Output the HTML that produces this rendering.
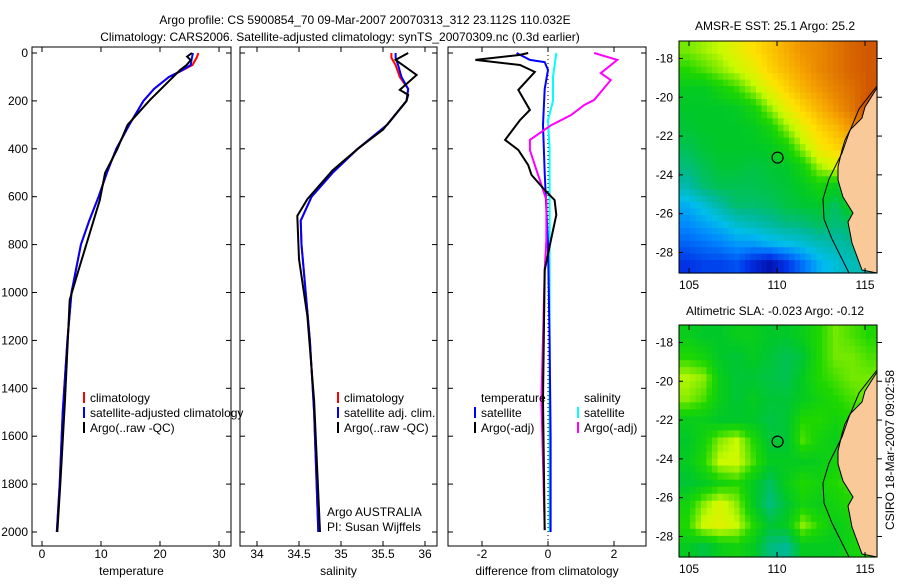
<!DOCTYPE html>
<html><head><meta charset="utf-8"><style>
body{margin:0;background:#fff}
svg text{font-family:"Liberation Sans",sans-serif;font-size:12px;fill:#000}
</style></head><body>
<svg id="fig" width="900" height="580" viewBox="0 0 900 580" xmlns="http://www.w3.org/2000/svg">
<rect width="900" height="580" fill="#fff"/>
<text x="365" y="24" text-anchor="middle">Argo profile: CS 5900854_70 09-Mar-2007 20070313_312 23.112S 110.032E</text>
<text x="340" y="41" text-anchor="middle">Climatology: CARS2006. Satellite-adjusted climatology: synTS_20070309.nc (0.3d earlier)</text>
<g id="plots"></g>
<text x="775" y="30" text-anchor="middle">AMSR-E SST: 25.1 Argo: 25.2</text>
<text x="775" y="315" text-anchor="middle">Altimetric SLA: -0.023 Argo: -0.12</text>
<text transform="translate(894,450) rotate(-90)" text-anchor="middle">CSIRO 18-Mar-2007 09:02:58</text>
</svg>
<script>
// ---- profile data ----
const tempClimDepth=[0,20,50,75,100,150,200,300,400,500,600,700,800,1000,1200,1500,1800,2000];
const tempClim=[26.5,26.2,25.5,23.6,21.5,19,17.2,14.8,12.6,11,9.6,8,6.6,5,4.3,3.5,3,2.5];
const tempSat=[25.6,25.4,25.2,23.5,21.5,19,17.2,14.8,12.6,11,9.6,8,6.6,5,4.3,3.5,3,2.5];
const tempArgoDepth=[0,15,30,50,71,113,196,300,405,500,614,760,906,1031,1449,1800,2000];
const tempArgo=[25.4,24.6,25.2,24.5,23.4,21.7,18.3,14.5,12.7,10.7,9.8,8,6.2,4.7,3.9,3.1,2.6];
const salClimDepth=[0,20,50,100,150,200,300,400,500,600,700,800,1000,1200,1500,2000];
const salClim=[35.6,35.6,35.65,35.7,35.8,35.78,35.55,35.2,34.9,34.65,34.52,34.53,34.58,34.63,34.68,34.73];
const salSat=[35.65,35.65,35.68,35.72,35.8,35.78,35.55,35.2,34.9,34.65,34.52,34.53,34.58,34.63,34.68,34.73];
const salArgoDepth=[0,29,92,154,175,200,320,400,490,610,680,860,1100,1450,2000];
const salArgo=[35.8,35.65,35.9,35.7,35.8,35.78,35.5,35.2,34.9,34.6,34.48,34.5,34.6,34.68,34.75];
const dTempDepth=[0,8,29,50,79,154,238,280,363,405,468,509,572,614,676,760,906,1449,1992];
const dTemp=[-0.6,-0.85,-2.2,-0.85,-0.4,-0.9,-0.55,-0.85,-1.3,-0.9,-0.6,-0.5,-0.1,0.2,0.25,0.12,-0.1,-0.15,-0.1];
const dSalDepth=[0,29,84,113,196,217,259,301,363,405,468,530,614,781,906,1449,1992];
const dSal=[1.4,2.1,1.6,1.9,1.4,1.1,0.7,0.1,-0.55,-0.55,-0.4,-0.25,-0.05,-0.05,-0.1,-0.2,-0.1];
const dTempSatDepth=[0,29,38,71,150,300,500,800,1200,1600,2000];
const dTempSat=[-0.95,-0.55,-0.1,0,-0.1,-0.15,-0.1,0,0.05,0.08,0.08];
const dSalSatDepth=[0,100,200,280,400,800,1200,2000];
const dSalSat=[0.25,0.15,0.15,0,0.05,0.05,0.05,0.05];
const depthTicks=[0,200,400,600,800,1000,1200,1400,1600,1800,2000];
const tempTicks=[0,10,20,30];
const salTicks=[34,34.5,35,35.5,36];
const diffTicks=[-2,0,2];

const NS="http://www.w3.org/2000/svg";
const root=document.getElementById('plots');
function mk(tag,attrs,parent){const e=document.createElementNS(NS,tag);for(const k in attrs)e.setAttribute(k,attrs[k]);(parent||root).appendChild(e);return e;}
const yTop=53, yScale=0.2395, boxTop=47, boxBot=546;
const yD=d=>yTop+d*yScale;

function panel(name,x0,x1,v0,px0,pxPer,ticks,label,showY){
  const g=mk('g',{});
  
  
  const xv=v=>px0+(v-v0)*pxPer;
  const r=mk('rect',{x:x0,y:boxTop,width:x1-x0,height:boxBot-boxTop,fill:'none',stroke:'#000','stroke-width':1},g);
  
  
  ticks.forEach(t=>{const X=xv(t);
    mk('line',{x1:X,x2:X,y1:boxBot,y2:boxBot-5,stroke:'#000'},g);
    mk('line',{x1:X,x2:X,y1:boxTop,y2:boxTop+5,stroke:'#000'},g);
    const tx=mk('text',{x:X,y:558,'text-anchor':'middle'},g);tx.textContent=t;
    
    });
  depthTicks.forEach(d=>{const Y=yD(d);
    mk('line',{x1:x0,x2:x0+5,y1:Y,y2:Y,stroke:'#000'},g);
    mk('line',{x1:x1,x2:x1-5,y1:Y,y2:Y,stroke:'#000'},g);
    if(showY){const tx=mk('text',{x:x0-4,y:Y+4,'text-anchor':'end'},g);tx.textContent=d;
      
      }});
  const lb=mk('text',{x:(x0+x1)/2,y:575,'text-anchor':'middle'},g);lb.textContent=label;
  
  
  return {g,xv};
}
function line(p,depths,vals,color,nm,w){
  const pts=depths.map((d,i)=>p.xv(vals[i]).toFixed(1)+','+yD(d).toFixed(1)).join(' ');
  const e=mk('polyline',{points:pts,fill:'none',stroke:color,'stroke-width':w||2},p.g);
  
  
}
function leg(g,x,y,color,txt,nm){
  mk('line',{x1:x,x2:x,y1:y-10,y2:y+1,stroke:color,'stroke-width':2},g);
  const t=mk('text',{x:x+6,y:y},g);t.textContent=txt;
  
  
}
const P1=panel('temperature-panel',32,231,0,42,5.9,tempTicks,'temperature',true);
line(P1,tempClimDepth,tempClim,'#ff0000','temp-climatology-line');
line(P1,tempClimDepth,tempSat,'#0000ff','temp-satellite-line');
line(P1,tempArgoDepth,tempArgo,'#000','temp-argo-line');
leg(P1.g,84,402,'#ff0000','climatology','legend-climatology');
leg(P1.g,84,417,'#0000ff','satellite-adjusted climatology','legend-satellite');
leg(P1.g,84,432,'#000','Argo(..raw -QC)','legend-argo');

const P2=panel('salinity-panel',240,437,34,257,84,salTicks,'salinity',false);
line(P2,salClimDepth,salClim,'#ff0000','sal-climatology-line');
line(P2,salClimDepth,salSat,'#0000ff','sal-satellite-line');
line(P2,salArgoDepth,salArgo,'#000','sal-argo-line');
leg(P2.g,338,402,'#ff0000','climatology','legend-sal-climatology');
leg(P2.g,338,417,'#0000ff','satellite adj. clim.','legend-sal-satellite');
leg(P2.g,338,432,'#000','Argo(..raw -QC)','legend-sal-argo');
let t=mk('text',{x:327,y:516},P2.g);t.textContent='Argo AUSTRALIA';

t=mk('text',{x:327,y:531},P2.g);t.textContent='PI: Susan Wijffels';


const P3=panel('difference-panel',448,646,0,548,33,diffTicks,'difference from climatology',false);
mk('line',{x1:548,x2:548,y1:boxTop,y2:boxBot,stroke:'#000','stroke-dasharray':'1,3'},P3.g);
line(P3,dSalSatDepth,dSalSat,'#00ffff','sal-satellite-diff-line');
line(P3,dTempSatDepth,dTempSat,'#0000ff','temp-satellite-diff-line');
line(P3,dSalDepth,dSal,'#ff00ff','sal-argo-diff-line');
line(P3,dTempDepth,dTemp,'#000','temp-argo-diff-line');
t=mk('text',{x:481,y:402},P3.g);t.textContent='temperature';

t=mk('text',{x:584,y:402},P3.g);t.textContent='salinity';

leg(P3.g,475,417,'#0000ff','satellite','legend-temp-satellite');
leg(P3.g,475,432,'#000','Argo(-adj)','legend-temp-argo');
leg(P3.g,578,417,'#00ffff','satellite','legend-sal-satellite-diff');
leg(P3.g,578,432,'#ff00ff','Argo(-adj)','legend-sal-argo-diff');

// ---- maps ----
const sstGrid=[
[0.56,0.58,0.6,0.64,0.68,0.72,0.76,0.8,0.82,0.85,0.88,0.9],
[0.52,0.54,0.57,0.6,0.64,0.7,0.74,0.78,0.82,0.85,0.88,0.9],
[0.47,0.47,0.5,0.53,0.58,0.64,0.7,0.75,0.79,0.83,0.86,0.9],
[0.46,0.46,0.46,0.47,0.5,0.57,0.64,0.7,0.75,0.8,0.85,0.92],
[0.45,0.46,0.46,0.46,0.47,0.5,0.57,0.64,0.7,0.74,0.8,0.9],
[0.43,0.45,0.46,0.46,0.46,0.47,0.5,0.58,0.66,0.7,0.72,0.8],
[0.4,0.43,0.45,0.45,0.44,0.45,0.46,0.5,0.58,0.62,0.6,0.6],
[0.36,0.41,0.43,0.43,0.43,0.44,0.45,0.47,0.5,0.48,0.5,0.5],
[0.28,0.32,0.37,0.41,0.41,0.42,0.44,0.45,0.46,0.42,0.5,0.5],
[0.23,0.26,0.29,0.33,0.35,0.37,0.39,0.4,0.42,0.4,0.42,0.42],
[0.18,0.2,0.22,0.25,0.25,0.28,0.3,0.32,0.35,0.36,0.38,0.38],
[0.12,0.14,0.14,0.16,0.1,0.05,0.12,0.2,0.28,0.32,0.35,0.35]];
const slaGrid=[
[0.48,0.46,0.46,0.48,0.48,0.46,0.46,0.48,0.52,0.56,0.54,0.52],
[0.52,0.5,0.46,0.45,0.47,0.45,0.43,0.45,0.52,0.56,0.56,0.54],
[0.59,0.57,0.48,0.45,0.45,0.44,0.43,0.47,0.52,0.54,0.56,0.56],
[0.57,0.54,0.48,0.45,0.47,0.45,0.45,0.47,0.5,0.52,0.54,0.56],
[0.48,0.48,0.46,0.46,0.46,0.44,0.45,0.52,0.52,0.5,0.52,0.54],
[0.46,0.5,0.57,0.6,0.52,0.45,0.45,0.54,0.5,0.48,0.52,0.54],
[0.47,0.52,0.6,0.61,0.54,0.47,0.47,0.47,0.48,0.5,0.52,0.54],
[0.45,0.47,0.5,0.52,0.47,0.42,0.48,0.52,0.5,0.52,0.54,0.54],
[0.5,0.57,0.62,0.57,0.47,0.4,0.45,0.5,0.48,0.5,0.52,0.52],
[0.52,0.61,0.63,0.6,0.52,0.45,0.47,0.57,0.52,0.48,0.5,0.52],
[0.47,0.44,0.48,0.5,0.47,0.4,0.38,0.47,0.47,0.47,0.5,0.52]];
const lonTicks=[105,110,115];
const latTicks=[-18,-20,-22,-24,-26,-28];
const cmStops=[[0,[0,0,140]],[0.12,[0,50,230]],[0.22,[0,130,255]],[0.3,[0,190,235]],[0.38,[0,185,150]],[0.46,[0,200,40]],[0.52,[30,215,0]],[0.6,[200,250,0]],[0.68,[255,225,0]],[0.78,[245,160,0]],[0.88,[215,100,0]],[1,[180,30,0]]];
function cmap(v){v=Math.max(0,Math.min(1,v));for(let i=1;i<cmStops.length;i++){if(v<=cmStops[i][0]){const a=cmStops[i-1],b=cmStops[i],f=(v-a[0])/(b[0]-a[0]);return 'rgb('+a[1].map((c,k)=>Math.round(c+(b[1][k]-c)*f)).join(',')+')';}}return 'rgb(180,30,0)';}
function sample(grid,fy,fx){const R=grid.length-1,C=grid[0].length-1;fy=Math.max(0,Math.min(R,fy));fx=Math.max(0,Math.min(C,fx));const i=Math.min(R-1,Math.floor(fy)),j=Math.min(C-1,Math.floor(fx)),a=fy-i,b=fx-j;return grid[i][j]*(1-a)*(1-b)+grid[i+1][j]*a*(1-b)+grid[i][j+1]*(1-a)*b+grid[i+1][j+1]*a*b;}
const svg=document.getElementById('fig');
function map(name,top,grid){
  const g=mk('g',{},svg);
  
  
  const L=679,R=877,B=top+232,W=R-L,H=232;
  const lonX=lo=>L+(lo-104.43)*17.6, latY=la=>top+(-17.1-la)*19.4;
  const rows=grid.length,cols=grid[0].length,NR=rows*3,NC=cols*3;
  for(let i=0;i<NR;i++)for(let j=0;j<NC;j++){
    const v=sample(grid,(i+0.5)/NR*rows-0.5,(j+0.5)/NC*cols-0.5);
    const c=mk('rect',{x:(L+j*W/NC).toFixed(2),y:(top+i*H/NR).toFixed(2),width:(W/NC+0.6).toFixed(2),height:(H/NR+0.6).toFixed(2),fill:cmap(v)},g);
    
    }
  const coast=[[198,47],[186,66],[183,77],[171,89],[166,99],[163,109],[159,126],[159,139],[164,156],[174,172],[169,181],[173,202],[183,229],[198,232]];
  const land=mk('polygon',{points:coast.map(p=>(L+p[0])+','+(top+p[1])).join(' '),fill:'#f9c99a',stroke:'#000','stroke-width':1},g);
  
  const iso=[[198,45],[180,68],[170,92],[163,112],[150,138],[144,158],[145,178],[153,198],[163,218],[170,232]];
  mk('polyline',{points:iso.map(p=>(L+p[0])+','+(top+p[1])).join(' '),fill:'none',stroke:'#000','stroke-width':1},g);
  mk('rect',{x:L,y:top,width:W,height:H,fill:'none',stroke:'#000'},g);
  lonTicks.forEach(lo=>{const X=lonX(lo);mk('line',{x1:X,x2:X,y1:top,y2:top+5,stroke:'#000'},g);mk('line',{x1:X,x2:X,y1:B,y2:B-5,stroke:'#000'},g);
    const tx=mk('text',{x:X,y:B+16,'text-anchor':'middle'},g);tx.textContent=lo;
    });
  latTicks.forEach(la=>{const Y=latY(la);mk('line',{x1:R,x2:R+5,y1:Y,y2:Y,stroke:'#000'},g);mk('line',{x1:L,x2:L+4,y1:Y,y2:Y,stroke:'#000'},g);
    const tx=mk('text',{x:L-6,y:Y+4,'text-anchor':'end'},g);tx.textContent=la;
    });
  const c=mk('circle',{cx:lonX(110.03),cy:latY(-23.11),r:5.5,fill:'none',stroke:'#000','stroke-width':1.2},g);
  
}
map('sst-map',41,sstGrid);
map('sla-map',325,slaGrid);
</script>
</body></html>
